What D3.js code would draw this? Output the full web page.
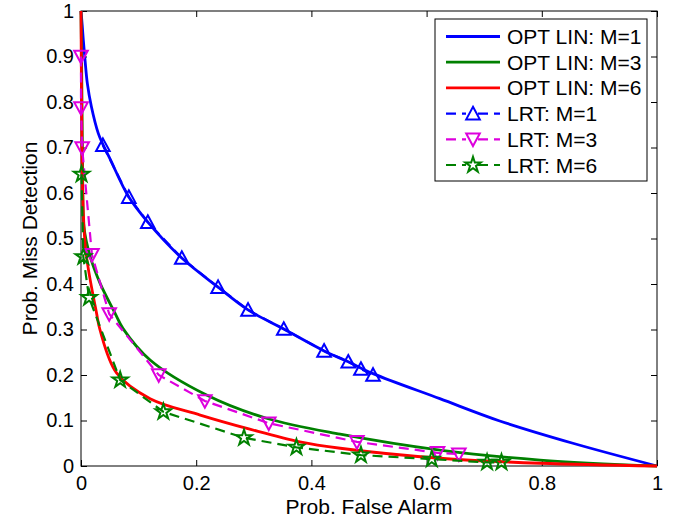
<!DOCTYPE html>
<html>
<head>
<meta charset="utf-8">
<script src="https://cdn.jsdelivr.net/npm/d3@7"></script>
<style>
  body { margin: 0; background: #fff; }
  text { font-family: "Liberation Sans", Arial, Helvetica, sans-serif; fill: #000; }
</style>
</head>
<body>
<div id="chart"></div>
<script>
// ticks
var xTicks = [0, 0.2, 0.4, 0.6, 0.8, 1];
var yTicks = [0, 0.1, 0.2, 0.3, 0.4, 0.5, 0.6, 0.7, 0.8, 0.9, 1];

// OPT LIN curves, [pfa, pmd]
var optM1 = [[0,1],[0.002,0.97],[0.004,0.936],[0.007,0.892],[0.011,0.841],[0.018,0.79],[0.03,0.731],
  [0.038,0.707],[0.05,0.676],[0.083,0.591],[0.116,0.536],[0.175,0.457],[0.238,0.393],[0.29,0.343],
  [0.352,0.301],[0.422,0.253],[0.464,0.229],[0.507,0.203],[0.623,0.148],[0.727,0.099],[0.854,0.05],[1,0]];
var optM3 = [[0,1],[0.001,0.9],[0.002,0.75],[0.003,0.62],[0.005,0.526],[0.016,0.46],[0.033,0.402],
  [0.059,0.336],[0.073,0.302],[0.12,0.233],[0.218,0.156],[0.322,0.105],[0.45,0.07],[0.623,0.035],
  [0.797,0.013],[1,0]];
var optM6 = [[0,1],[0.001,0.8],[0.003,0.6],[0.007,0.489],[0.013,0.431],[0.027,0.336],[0.033,0.299],
  [0.062,0.204],[0.12,0.148],[0.207,0.112],[0.293,0.081],[0.38,0.053],[0.45,0.039],[0.623,0.017],
  [0.797,0.006],[1,0]];

// LRT points (markers)
var lrtM1 = [[0.038,0.705],[0.083,0.591],[0.116,0.536],[0.175,0.457],[0.238,0.393],[0.29,0.343],
  [0.352,0.301],[0.422,0.253],[0.464,0.229],[0.486,0.213],[0.507,0.2]];
var lrtM3 = [[0,0.9],[0,0.787],[0.002,0.699],[0.019,0.464],[0.049,0.334],[0.135,0.2],[0.215,0.143],
  [0.326,0.094],[0.479,0.053],[0.619,0.029],[0.656,0.026]];
var lrtM6 = [[0.001,0.641],[0.004,0.46],[0.014,0.37],[0.068,0.189],[0.143,0.119],[0.283,0.062],
  [0.374,0.041],[0.486,0.024],[0.609,0.015],[0.705,0.008],[0.73,0.008]];

var W = 679, H = 521;
var margin = {left: 81, top: 11, right: 22, bottom: 55};
var pw = W - margin.left - margin.right,
    ph = H - margin.top - margin.bottom;

var x = d3.scaleLinear().domain([0, 1]).range([0, pw]),
    y = d3.scaleLinear().domain([0, 1]).range([ph, 0]);

var svg = d3.select("#chart").append("svg")
    .attr("width", W)
    .attr("height", H);

var g = svg.append("g")
    .attr("transform", "translate(" + margin.left + "," + margin.top + ")");

var fmt = function(d) { return String(+d.toFixed(1)); };

// axes, matlab style ticks pointing in
var tl = 6;
g.append("g").attr("transform", "translate(0," + ph + ")")
    .call(d3.axisBottom(x).tickValues(xTicks).tickSize(-tl).tickPadding(10).tickFormat(fmt));
g.append("g")
    .call(d3.axisTop(x).tickValues(xTicks).tickSize(-tl).tickFormat(""));
g.append("g")
    .call(d3.axisLeft(y).tickValues(yTicks).tickSize(-tl).tickPadding(7).tickFormat(fmt));
g.append("g").attr("transform", "translate(" + pw + ",0)")
    .call(d3.axisRight(y).tickValues(yTicks).tickSize(-tl).tickFormat(""));

g.selectAll(".domain").remove();
g.selectAll(".tick line").attr("stroke", "#000").attr("stroke-width", 1);
g.selectAll(".tick text").style("font-size", "20px")
    .style("font-family", "'Liberation Sans', Arial, sans-serif");

g.append("rect")
    .attr("width", pw).attr("height", ph)
    .attr("fill", "none").attr("stroke", "#000").attr("stroke-width", 1);

var line = d3.line()
    .x(function(d) { return x(d[0]); })
    .y(function(d) { return y(d[1]); });

var smooth = d3.line()
    .x(function(d) { return x(d[0]); })
    .y(function(d) { return y(d[1]); })
    .curve(d3.curveCatmullRom.alpha(0.5));

function triUp(s) { return "M0," + (-s) + "L" + s + "," + (s * 0.85) + "L" + (-s) + "," + (s * 0.85) + "Z"; }
function triDown(s) { return "M0," + s + "L" + s + "," + (-s * 0.85) + "L" + (-s) + "," + (-s * 0.85) + "Z"; }
var star = d3.symbol().type(d3.symbolStar).size(75)();

var series = [
  {name: "OPT LIN: M=1", data: optM1, color: "#0000ff", dash: null, marker: null},
  {name: "OPT LIN: M=3", data: optM3, color: "#008000", dash: null, marker: null},
  {name: "OPT LIN: M=6", data: optM6, color: "#ff0000", dash: null, marker: null},
  {name: "LRT: M=1", data: lrtM1, color: "#0000ff", dash: "10,6", marker: triUp(6.8)},
  {name: "LRT: M=3", data: lrtM3, color: "#dd00dd", dash: "10,6", marker: triDown(6.8)},
  {name: "LRT: M=6", data: lrtM6, color: "#008000", dash: "10,6", marker: star}
];

series.forEach(function(s) {
  g.append("path")
      .attr("d", s.marker ? line(s.data) : smooth(s.data))
      .attr("fill", "none")
      .attr("stroke", s.color)
      .attr("stroke-width", s.marker ? 2.2 : 2.8)
      .attr("stroke-dasharray", s.dash);
  if (s.marker) {
    g.selectAll(null)
        .data(s.data)
        .enter().append("path")
        .attr("transform", function(d) { return "translate(" + x(d[0]) + "," + y(d[1]) + ")"; })
        .attr("d", s.marker)
        .attr("fill", "none")
        .attr("stroke", s.color)
        .attr("stroke-width", 2);
  }
});

// legend
var lg = svg.append("g").attr("transform", "translate(435,19)");
lg.append("rect")
    .attr("width", 212).attr("height", 162)
    .attr("fill", "#fff").attr("stroke", "#000").attr("stroke-width", 1);

series.forEach(function(s, i) {
  var ry = 17.5 + i * 25.7;
  lg.append("line")
      .attr("x1", 11).attr("x2", 65)
      .attr("y1", ry).attr("y2", ry)
      .attr("stroke", s.color)
      .attr("stroke-width", s.marker ? 2.2 : 2.8)
      .attr("stroke-dasharray", s.dash);
  if (s.marker) {
    lg.append("rect").attr("x", 31).attr("y", ry - 8).attr("width", 12).attr("height", 16).attr("fill", "#fff");
    lg.append("path")
        .attr("transform", "translate(38," + ry + ")")
        .attr("d", s.marker)
        .attr("fill", "none")
        .attr("stroke", s.color)
        .attr("stroke-width", 2);
  }
  lg.append("text")
      .attr("x", 72).attr("y", ry + 7.5)
      .style("font-size", "21px")
      .text(s.name);
});

// axis titles
svg.append("text")
    .attr("x", margin.left + pw / 2).attr("y", 514)
    .attr("text-anchor", "middle")
    .style("font-size", "21px")
    .text("Prob. False Alarm");

svg.append("text")
    .attr("transform", "translate(37," + (margin.top + ph / 2) + ") rotate(-90)")
    .attr("text-anchor", "middle")
    .style("font-size", "21px")
    .text("Prob. Miss Detection");
</script>
</body>
</html>
